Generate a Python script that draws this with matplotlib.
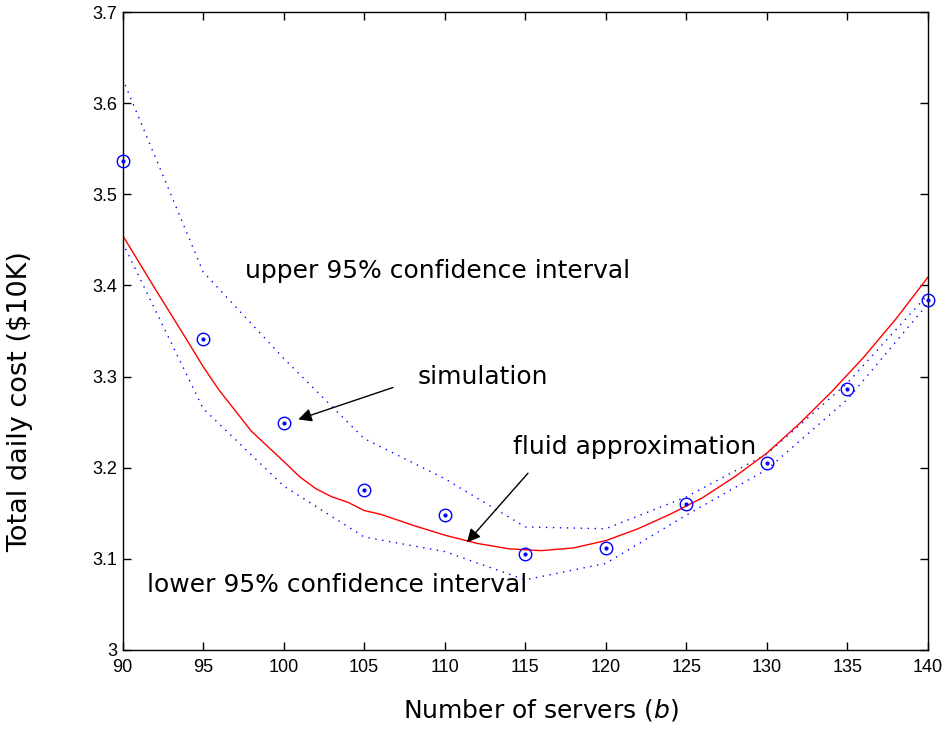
import matplotlib
matplotlib.use("Agg")
import matplotlib.pyplot as plt

# ---- data ----
sim_x = [90, 95, 100, 105, 110, 115, 120, 125, 130, 135, 140]
sim_y = [3.537, 3.341, 3.249, 3.175, 3.148, 3.105, 3.112, 3.160, 3.205, 3.286, 3.384]

upper_y = [3.627, 3.415, 3.320, 3.232, 3.188, 3.135, 3.133, 3.168, 3.215, 3.293, 3.390]
lower_y = [3.447, 3.265, 3.180, 3.124, 3.108, 3.077, 3.095, 3.148, 3.198, 3.275, 3.380]

fluid_x = [90, 92, 94, 95, 96, 98, 100, 101, 102, 103, 104, 105, 106, 108, 110,
           112, 114, 116, 118, 120, 122, 124, 126, 128, 130, 132, 134, 136, 138, 140]
fluid_y = [3.455, 3.397, 3.340, 3.311, 3.285, 3.240, 3.207, 3.190, 3.177, 3.168,
           3.162, 3.153, 3.149, 3.137, 3.126, 3.117, 3.111, 3.109, 3.112, 3.120,
           3.133, 3.149, 3.167, 3.190, 3.216, 3.248, 3.283, 3.321, 3.363, 3.409]

x_ticks = [90, 95, 100, 105, 110, 115, 120, 125, 130, 135, 140]
y_ticks = [3.0, 3.1, 3.2, 3.3, 3.4, 3.5, 3.6, 3.7]
y_tick_labels = ["3", "3.1", "3.2", "3.3", "3.4", "3.5", "3.6", "3.7"]

# ---- figure ----
fig = plt.figure(figsize=(9.44, 7.29), dpi=100)
ax = fig.add_axes([0.1298, 0.1084, 0.8532, 0.8751])

dot = (0, (1, 4))
ax.plot(sim_x, upper_y, color="blue", lw=1.0, linestyle=dot)
ax.plot(sim_x, lower_y, color="blue", lw=1.0, linestyle=dot)
ax.plot(fluid_x, fluid_y, color="red", lw=1.0)
ax.plot(sim_x, sim_y, linestyle="none", marker="o", markersize=9,
        markerfacecolor="none", markeredgecolor="blue", markeredgewidth=1.0,
        clip_on=False, zorder=5)
ax.plot(sim_x, sim_y, linestyle="none", marker=".", markersize=4,
        color="blue", clip_on=False, zorder=6)

ax.set_xlim(90, 140)
ax.set_ylim(3.0, 3.7)
ax.set_xticks(x_ticks)
ax.set_xticklabels([str(t) for t in x_ticks], family="Liberation Sans", fontsize=13)
ax.set_yticks(y_ticks)
ax.set_yticklabels(y_tick_labels, family="Liberation Sans", fontsize=13)
ax.tick_params(direction="in", length=6, width=1.0, top=True, right=True, pad=4)
ax.tick_params(axis="x", pad=6.5)
for s in ax.spines.values():
    s.set_linewidth(1.0)

ax.set_xlabel("Number of servers ($b$)", fontsize=18, family="DejaVu Sans")
ax.xaxis.set_label_coords(0.520, -0.0737)
ax.set_ylabel("Total daily cost (\\$10K)", fontsize=19.5, family="DejaVu Sans")
ax.yaxis.set_label_coords(-0.111, 0.389)

txt = dict(fontsize=18, family="DejaVu Sans", va="center", ha="left")
arrow = dict(arrowstyle="-|>", color="k", lw=1.0, mutation_scale=20,
             shrinkA=0, shrinkB=0)
ax.text(97.6, 3.416, "upper 95% confidence interval", **txt)
ax.text(91.5, 3.071, "lower 95% confidence interval", **txt)
ax.text(108.35, 3.30, "simulation", **txt)
ax.annotate("", xy=(100.91, 3.253), xytext=(106.79, 3.288), arrowprops=arrow)
ax.text(114.24, 3.2226, "fluid approximation", **txt)
ax.annotate("", xy=(111.38, 3.118), xytext=(115.17, 3.194), arrowprops=arrow)

fig.savefig("out.png", dpi=100)
